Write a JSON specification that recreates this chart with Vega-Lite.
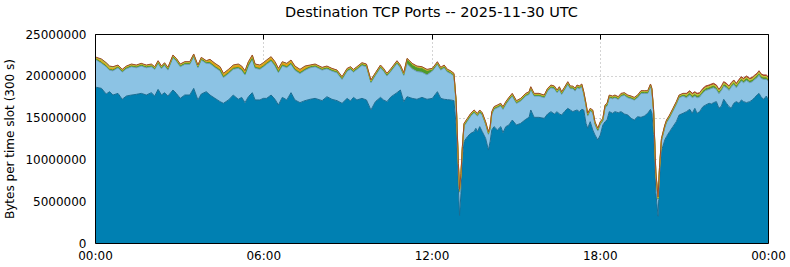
{
  "$schema": "https://vega.github.io/schema/vega-lite/v6.json",
  "width": 673,
  "height": 209,
  "autosize": "none",
  "padding": {"left": 95, "top": 34, "right": 22, "bottom": 24},
  "background": "white",
  "title": {"text": "Destination TCP Ports -- 2025-11-30 UTC", "font": "DejaVu Sans", "fontSize": 14.5, "fontWeight": "normal", "color": "black", "frame": "group", "anchor": "middle", "offset": 7.5},
  "config": {
    "view": {"stroke": null},
    "axis": {"labelFont": "DejaVu Sans", "labelFontSize": 12, "labelColor": "black", "titleFont": "DejaVu Sans", "titleFontSize": 12, "titleFontWeight": "normal", "titleColor": "black", "domainColor": "black", "domainWidth": 1, "tickColor": "black", "gridColor": "#a8a8a8", "gridDash": [1, 3], "gridWidth": 1}
  },
  "data": {"values": [
    {"h":0.00,"a":18600000,"b":3170000,"c":120000,"d":120000,"e":30000,"f":60000},
    {"h":0.05,"a":18620000,"b":3260000,"c":120000,"d":120000,"e":30000,"f":60000},
    {"h":0.23,"a":18500000,"b":3010000,"c":120000,"d":120000,"e":200000,"f":60000},
    {"h":0.40,"a":17820000,"b":3250000,"c":120000,"d":120000,"e":200000,"f":60000},
    {"h":0.52,"a":18100000,"b":2570000,"c":120000,"d":120000,"e":200000,"f":60000},
    {"h":0.64,"a":17700000,"b":2890000,"c":120000,"d":120000,"e":200000,"f":60000},
    {"h":0.82,"a":17900000,"b":3060000,"c":120000,"d":120000,"e":30000,"f":60000},
    {"h":0.97,"a":17190000,"b":3250000,"c":120000,"d":120000,"e":30000,"f":60000},
    {"h":1.12,"a":17580000,"b":3260000,"c":120000,"d":120000,"e":30000,"f":60000},
    {"h":1.30,"a":17700000,"b":3380000,"c":120000,"d":120000,"e":30000,"f":60000},
    {"h":1.47,"a":17780000,"b":3180000,"c":120000,"d":120000,"e":30000,"f":60000},
    {"h":1.65,"a":17900000,"b":3260000,"c":120000,"d":120000,"e":30000,"f":60000},
    {"h":1.83,"a":17700000,"b":3260000,"c":120000,"d":120000,"e":30000,"f":60000},
    {"h":2.01,"a":17980000,"b":3100000,"c":120000,"d":120000,"e":30000,"f":60000},
    {"h":2.13,"a":17580000,"b":3180000,"c":120000,"d":120000,"e":30000,"f":60000},
    {"h":2.25,"a":18380000,"b":3100000,"c":120000,"d":120000,"e":30000,"f":60000},
    {"h":2.37,"a":17700000,"b":3140000,"c":120000,"d":120000,"e":30000,"f":60000},
    {"h":2.48,"a":17980000,"b":3260000,"c":120000,"d":120000,"e":30000,"f":60000},
    {"h":2.60,"a":17580000,"b":3100000,"c":120000,"d":120000,"e":30000,"f":60000},
    {"h":2.78,"a":18300000,"b":3860000,"c":120000,"d":120000,"e":30000,"f":60000},
    {"h":2.90,"a":17900000,"b":3860000,"c":120000,"d":120000,"e":30000,"f":60000},
    {"h":3.04,"a":17300000,"b":3780000,"c":120000,"d":120000,"e":30000,"f":60000},
    {"h":3.20,"a":17700000,"b":3660000,"c":120000,"d":120000,"e":30000,"f":60000},
    {"h":3.38,"a":17700000,"b":3660000,"c":120000,"d":120000,"e":30000,"f":60000},
    {"h":3.52,"a":18500000,"b":3780000,"c":120000,"d":120000,"e":30000,"f":60000},
    {"h":3.67,"a":17110000,"b":3850000,"c":120000,"d":120000,"e":30000,"f":60000},
    {"h":3.79,"a":17820000,"b":4060000,"c":120000,"d":120000,"e":30000,"f":60000},
    {"h":3.97,"a":18100000,"b":3380000,"c":120000,"d":120000,"e":30000,"f":60000},
    {"h":4.10,"a":17700000,"b":3760000,"c":120000,"d":300000,"e":30000,"f":60000},
    {"h":4.28,"a":17300000,"b":3680000,"c":120000,"d":300000,"e":30000,"f":60000},
    {"h":4.46,"a":16910000,"b":3670000,"c":120000,"d":300000,"e":30000,"f":60000},
    {"h":4.58,"a":16710000,"b":3080000,"c":120000,"d":300000,"e":30000,"f":60000},
    {"h":4.76,"a":17110000,"b":3150000,"c":120000,"d":300000,"e":30000,"f":60000},
    {"h":4.93,"a":17700000,"b":3080000,"c":120000,"d":300000,"e":30000,"f":60000},
    {"h":5.11,"a":17190000,"b":3710000,"c":120000,"d":300000,"e":30000,"f":60000},
    {"h":5.23,"a":17420000,"b":3240000,"c":120000,"d":300000,"e":30000,"f":60000},
    {"h":5.35,"a":16790000,"b":3310000,"c":120000,"d":300000,"e":30000,"f":60000},
    {"h":5.47,"a":17500000,"b":3680000,"c":120000,"d":300000,"e":30000,"f":60000},
    {"h":5.61,"a":17980000,"b":4000000,"c":120000,"d":300000,"e":30000,"f":60000},
    {"h":5.71,"a":17110000,"b":3790000,"c":120000,"d":300000,"e":30000,"f":60000},
    {"h":5.88,"a":17110000,"b":3670000,"c":120000,"d":300000,"e":30000,"f":60000},
    {"h":6.00,"a":17300000,"b":3760000,"c":120000,"d":300000,"e":30000,"f":60000},
    {"h":6.12,"a":17300000,"b":4080000,"c":120000,"d":300000,"e":30000,"f":60000},
    {"h":6.28,"a":17700000,"b":4080000,"c":120000,"d":300000,"e":30000,"f":60000},
    {"h":6.42,"a":17190000,"b":3990000,"c":120000,"d":300000,"e":30000,"f":60000},
    {"h":6.54,"a":16510000,"b":3870000,"c":120000,"d":300000,"e":30000,"f":60000},
    {"h":6.68,"a":17420000,"b":3760000,"c":120000,"d":300000,"e":30000,"f":60000},
    {"h":6.84,"a":17110000,"b":3870000,"c":120000,"d":300000,"e":30000,"f":60000},
    {"h":6.99,"a":17980000,"b":3400000,"c":120000,"d":300000,"e":30000,"f":60000},
    {"h":7.13,"a":17110000,"b":3550000,"c":120000,"d":300000,"e":30000,"f":60000},
    {"h":7.31,"a":16790000,"b":3470000,"c":120000,"d":300000,"e":30000,"f":60000},
    {"h":7.49,"a":17030000,"b":3630000,"c":120000,"d":300000,"e":30000,"f":60000},
    {"h":7.67,"a":17190000,"b":3770000,"c":120000,"d":120000,"e":30000,"f":60000},
    {"h":7.85,"a":17300000,"b":3780000,"c":120000,"d":120000,"e":30000,"f":60000},
    {"h":8.10,"a":17030000,"b":3650000,"c":120000,"d":120000,"e":30000,"f":60000},
    {"h":8.27,"a":17500000,"b":3340000,"c":120000,"d":120000,"e":30000,"f":60000},
    {"h":8.45,"a":17190000,"b":3370000,"c":120000,"d":120000,"e":30000,"f":60000},
    {"h":8.63,"a":17030000,"b":3330000,"c":120000,"d":120000,"e":30000,"f":60000},
    {"h":8.81,"a":16710000,"b":2860000,"c":120000,"d":120000,"e":30000,"f":60000},
    {"h":8.99,"a":17300000,"b":3260000,"c":120000,"d":120000,"e":30000,"f":60000},
    {"h":9.11,"a":16990000,"b":3770000,"c":120000,"d":120000,"e":30000,"f":60000},
    {"h":9.22,"a":17420000,"b":3020000,"c":120000,"d":120000,"e":30000,"f":60000},
    {"h":9.34,"a":17110000,"b":3650000,"c":120000,"d":120000,"e":30000,"f":60000},
    {"h":9.52,"a":17300000,"b":3940000,"c":120000,"d":120000,"e":30000,"f":60000},
    {"h":9.68,"a":17110000,"b":3970000,"c":120000,"d":120000,"e":30000,"f":60000},
    {"h":9.84,"a":15910000,"b":3260000,"c":120000,"d":120000,"e":30000,"f":60000},
    {"h":10.00,"a":16910000,"b":3130000,"c":120000,"d":120000,"e":30000,"f":60000},
    {"h":10.18,"a":17420000,"b":3540000,"c":120000,"d":120000,"e":30000,"f":60000},
    {"h":10.29,"a":17110000,"b":3450000,"c":120000,"d":120000,"e":30000,"f":60000},
    {"h":10.41,"a":16910000,"b":3060000,"c":120000,"d":120000,"e":30000,"f":60000},
    {"h":10.56,"a":17500000,"b":3060000,"c":120000,"d":120000,"e":30000,"f":60000},
    {"h":10.77,"a":17980000,"b":3500000,"c":120000,"d":120000,"e":30000,"f":60000},
    {"h":10.89,"a":18300000,"b":2660000,"c":120000,"d":120000,"e":30000,"f":60000},
    {"h":11.01,"a":16910000,"b":3130000,"c":120000,"d":120000,"e":30000,"f":60000},
    {"h":11.13,"a":17500000,"b":3930000,"c":450000,"d":120000,"e":30000,"f":60000},
    {"h":11.31,"a":17300000,"b":3530000,"c":450000,"d":120000,"e":30000,"f":60000},
    {"h":11.48,"a":17190000,"b":3320000,"c":450000,"d":120000,"e":30000,"f":60000},
    {"h":11.66,"a":17420000,"b":3010000,"c":450000,"d":120000,"e":30000,"f":60000},
    {"h":11.84,"a":17190000,"b":2920000,"c":450000,"d":120000,"e":30000,"f":60000},
    {"h":12.03,"a":17300000,"b":3260000,"c":120000,"d":120000,"e":30000,"f":60000},
    {"h":12.21,"a":18100000,"b":3260000,"c":120000,"d":120000,"e":30000,"f":60000},
    {"h":12.33,"a":17300000,"b":3380000,"c":120000,"d":120000,"e":30000,"f":60000},
    {"h":12.45,"a":17190000,"b":3770000,"c":120000,"d":120000,"e":30000,"f":60000},
    {"h":12.57,"a":17150000,"b":3290000,"c":120000,"d":120000,"e":30000,"f":60000},
    {"h":12.68,"a":17110000,"b":3170000,"c":120000,"d":120000,"e":30000,"f":60000},
    {"h":12.80,"a":17030000,"b":2940000,"c":120000,"d":120000,"e":30000,"f":60000},
    {"h":12.88,"a":14000000,"b":2670000,"c":120000,"d":120000,"e":30000,"f":60000},
    {"h":12.96,"a":6500000,"b":2670000,"c":120000,"d":120000,"e":30000,"f":60000},
    {"h":13.00,"a":3300000,"b":2770000,"c":120000,"d":120000,"e":30000,"f":60000},
    {"h":13.05,"a":5900000,"b":2070000,"c":120000,"d":120000,"e":30000,"f":60000},
    {"h":13.10,"a":9930000,"b":1260000,"c":120000,"d":120000,"e":30000,"f":60000},
    {"h":13.16,"a":12120000,"b":1860000,"c":120000,"d":120000,"e":30000,"f":60000},
    {"h":13.28,"a":12720000,"b":1860000,"c":120000,"d":120000,"e":30000,"f":60000},
    {"h":13.40,"a":13120000,"b":2060000,"c":120000,"d":120000,"e":30000,"f":60000},
    {"h":13.52,"a":13320000,"b":2260000,"c":120000,"d":120000,"e":30000,"f":60000},
    {"h":13.58,"a":13720000,"b":1660000,"c":120000,"d":120000,"e":30000,"f":60000},
    {"h":13.64,"a":13320000,"b":1860000,"c":120000,"d":120000,"e":30000,"f":60000},
    {"h":13.72,"a":13920000,"b":1660000,"c":120000,"d":120000,"e":30000,"f":60000},
    {"h":13.81,"a":13320000,"b":1940000,"c":120000,"d":120000,"e":30000,"f":60000},
    {"h":13.93,"a":12520000,"b":1660000,"c":120000,"d":120000,"e":30000,"f":60000},
    {"h":14.03,"a":11120000,"b":1870000,"c":120000,"d":120000,"e":30000,"f":60000},
    {"h":14.09,"a":12120000,"b":1470000,"c":120000,"d":120000,"e":30000,"f":60000},
    {"h":14.15,"a":13520000,"b":1860000,"c":120000,"d":120000,"e":30000,"f":60000},
    {"h":14.23,"a":13920000,"b":2060000,"c":120000,"d":120000,"e":30000,"f":60000},
    {"h":14.35,"a":13520000,"b":2660000,"c":120000,"d":120000,"e":30000,"f":60000},
    {"h":14.47,"a":13920000,"b":2460000,"c":120000,"d":120000,"e":30000,"f":60000},
    {"h":14.55,"a":13200000,"b":2780000,"c":120000,"d":120000,"e":30000,"f":60000},
    {"h":14.65,"a":13920000,"b":2660000,"c":120000,"d":120000,"e":30000,"f":60000},
    {"h":14.76,"a":14110000,"b":2980000,"c":120000,"d":120000,"e":30000,"f":60000},
    {"h":14.88,"a":14710000,"b":2860000,"c":120000,"d":120000,"e":30000,"f":60000},
    {"h":15.03,"a":14110000,"b":2590000,"c":120000,"d":120000,"e":30000,"f":60000},
    {"h":15.18,"a":14310000,"b":2660000,"c":120000,"d":120000,"e":30000,"f":60000},
    {"h":15.36,"a":14790000,"b":2780000,"c":120000,"d":120000,"e":30000,"f":60000},
    {"h":15.48,"a":15030000,"b":2740000,"c":120000,"d":120000,"e":30000,"f":60000},
    {"h":15.54,"a":15910000,"b":2460000,"c":120000,"d":120000,"e":30000,"f":60000},
    {"h":15.66,"a":15030000,"b":2540000,"c":120000,"d":120000,"e":30000,"f":60000},
    {"h":15.83,"a":15030000,"b":2540000,"c":120000,"d":120000,"e":30000,"f":60000},
    {"h":16.02,"a":14910000,"b":2460000,"c":120000,"d":120000,"e":30000,"f":60000},
    {"h":16.14,"a":15430000,"b":2740000,"c":120000,"d":120000,"e":30000,"f":60000},
    {"h":16.26,"a":15710000,"b":2860000,"c":120000,"d":120000,"e":30000,"f":60000},
    {"h":16.38,"a":15430000,"b":3020000,"c":120000,"d":120000,"e":30000,"f":60000},
    {"h":16.48,"a":15710000,"b":2260000,"c":120000,"d":120000,"e":30000,"f":60000},
    {"h":16.56,"a":15430000,"b":2940000,"c":120000,"d":120000,"e":30000,"f":60000},
    {"h":16.64,"a":15310000,"b":2460000,"c":120000,"d":120000,"e":30000,"f":60000},
    {"h":16.74,"a":15710000,"b":2580000,"c":120000,"d":120000,"e":30000,"f":60000},
    {"h":16.86,"a":16110000,"b":2860000,"c":120000,"d":120000,"e":30000,"f":60000},
    {"h":16.95,"a":15910000,"b":2540000,"c":120000,"d":120000,"e":30000,"f":60000},
    {"h":17.04,"a":15710000,"b":2740000,"c":120000,"d":120000,"e":30000,"f":60000},
    {"h":17.12,"a":15830000,"b":2340000,"c":120000,"d":120000,"e":30000,"f":60000},
    {"h":17.19,"a":15910000,"b":2660000,"c":120000,"d":120000,"e":30000,"f":60000},
    {"h":17.27,"a":15710000,"b":2740000,"c":120000,"d":120000,"e":30000,"f":60000},
    {"h":17.36,"a":15990000,"b":2700000,"c":120000,"d":120000,"e":30000,"f":60000},
    {"h":17.43,"a":15910000,"b":1860000,"c":120000,"d":120000,"e":30000,"f":60000},
    {"h":17.51,"a":14310000,"b":2070000,"c":120000,"d":120000,"e":30000,"f":60000},
    {"h":17.57,"a":13720000,"b":1460000,"c":120000,"d":120000,"e":30000,"f":60000},
    {"h":17.66,"a":14510000,"b":1270000,"c":120000,"d":120000,"e":30000,"f":60000},
    {"h":17.75,"a":13520000,"b":2060000,"c":120000,"d":120000,"e":30000,"f":60000},
    {"h":17.83,"a":12920000,"b":1260000,"c":120000,"d":120000,"e":30000,"f":60000},
    {"h":17.93,"a":12320000,"b":1070000,"c":120000,"d":120000,"e":30000,"f":60000},
    {"h":18.02,"a":12920000,"b":1260000,"c":120000,"d":120000,"e":30000,"f":60000},
    {"h":18.11,"a":14110000,"b":470000,"c":120000,"d":120000,"e":30000,"f":60000},
    {"h":18.19,"a":14510000,"b":1670000,"c":120000,"d":120000,"e":30000,"f":60000},
    {"h":18.26,"a":14710000,"b":1670000,"c":120000,"d":120000,"e":30000,"f":60000},
    {"h":18.34,"a":15710000,"b":1660000,"c":120000,"d":120000,"e":30000,"f":60000},
    {"h":18.46,"a":15510000,"b":1740000,"c":120000,"d":120000,"e":30000,"f":60000},
    {"h":18.54,"a":15710000,"b":1660000,"c":120000,"d":120000,"e":30000,"f":60000},
    {"h":18.66,"a":15590000,"b":1580000,"c":120000,"d":120000,"e":30000,"f":60000},
    {"h":18.76,"a":15710000,"b":1860000,"c":120000,"d":120000,"e":30000,"f":60000},
    {"h":18.88,"a":15430000,"b":2220000,"c":120000,"d":120000,"e":30000,"f":60000},
    {"h":19.00,"a":15310000,"b":2060000,"c":120000,"d":120000,"e":30000,"f":60000},
    {"h":19.12,"a":14910000,"b":2340000,"c":120000,"d":120000,"e":30000,"f":60000},
    {"h":19.23,"a":14710000,"b":2380000,"c":120000,"d":120000,"e":30000,"f":60000},
    {"h":19.35,"a":15110000,"b":2260000,"c":120000,"d":120000,"e":30000,"f":60000},
    {"h":19.47,"a":15030000,"b":2860000,"c":120000,"d":120000,"e":30000,"f":60000},
    {"h":19.59,"a":15190000,"b":2700000,"c":120000,"d":120000,"e":30000,"f":60000},
    {"h":19.71,"a":15510000,"b":2380000,"c":120000,"d":120000,"e":30000,"f":60000},
    {"h":19.81,"a":15990000,"b":2700000,"c":120000,"d":120000,"e":30000,"f":60000},
    {"h":19.86,"a":15510000,"b":2660000,"c":120000,"d":120000,"e":30000,"f":60000},
    {"h":19.92,"a":13000000,"b":2670000,"c":120000,"d":120000,"e":30000,"f":60000},
    {"h":20.00,"a":6000000,"b":2170000,"c":120000,"d":120000,"e":30000,"f":60000},
    {"h":20.08,"a":3200000,"b":1970000,"c":120000,"d":120000,"e":30000,"f":60000},
    {"h":20.13,"a":7500000,"b":1170000,"c":120000,"d":120000,"e":30000,"f":60000},
    {"h":20.20,"a":11000000,"b":1170000,"c":120000,"d":120000,"e":30000,"f":60000},
    {"h":20.32,"a":12320000,"b":1460000,"c":120000,"d":120000,"e":30000,"f":60000},
    {"h":20.38,"a":12720000,"b":1660000,"c":120000,"d":120000,"e":30000,"f":60000},
    {"h":20.49,"a":13320000,"b":1660000,"c":120000,"d":120000,"e":30000,"f":60000},
    {"h":20.61,"a":13920000,"b":1860000,"c":120000,"d":120000,"e":30000,"f":60000},
    {"h":20.73,"a":14510000,"b":2070000,"c":120000,"d":120000,"e":30000,"f":60000},
    {"h":20.83,"a":15310000,"b":2060000,"c":120000,"d":120000,"e":30000,"f":60000},
    {"h":20.97,"a":15510000,"b":2060000,"c":120000,"d":120000,"e":30000,"f":60000},
    {"h":21.09,"a":15710000,"b":1660000,"c":200000,"d":120000,"e":30000,"f":180000},
    {"h":21.21,"a":15990000,"b":1700000,"c":200000,"d":120000,"e":30000,"f":180000},
    {"h":21.30,"a":15510000,"b":1860000,"c":200000,"d":120000,"e":30000,"f":180000},
    {"h":21.39,"a":16110000,"b":1460000,"c":200000,"d":120000,"e":30000,"f":180000},
    {"h":21.47,"a":15510000,"b":1860000,"c":200000,"d":120000,"e":30000,"f":180000},
    {"h":21.56,"a":15710000,"b":1740000,"c":200000,"d":120000,"e":30000,"f":180000},
    {"h":21.68,"a":16310000,"b":1660000,"c":200000,"d":120000,"e":30000,"f":180000},
    {"h":21.78,"a":16510000,"b":1740000,"c":200000,"d":120000,"e":30000,"f":180000},
    {"h":21.90,"a":16710000,"b":1660000,"c":200000,"d":120000,"e":30000,"f":180000},
    {"h":21.98,"a":16630000,"b":1860000,"c":200000,"d":120000,"e":30000,"f":180000},
    {"h":22.06,"a":16790000,"b":1780000,"c":200000,"d":120000,"e":30000,"f":180000},
    {"h":22.16,"a":16910000,"b":1460000,"c":200000,"d":120000,"e":30000,"f":180000},
    {"h":22.25,"a":16110000,"b":1740000,"c":200000,"d":120000,"e":30000,"f":180000},
    {"h":22.34,"a":16390000,"b":1860000,"c":200000,"d":120000,"e":30000,"f":180000},
    {"h":22.42,"a":17190000,"b":1580000,"c":200000,"d":120000,"e":30000,"f":180000},
    {"h":22.52,"a":16710000,"b":1860000,"c":200000,"d":120000,"e":30000,"f":180000},
    {"h":22.61,"a":16310000,"b":1940000,"c":200000,"d":120000,"e":30000,"f":180000},
    {"h":22.69,"a":16110000,"b":2540000,"c":200000,"d":120000,"e":30000,"f":180000},
    {"h":22.78,"a":16710000,"b":2260000,"c":200000,"d":120000,"e":30000,"f":180000},
    {"h":22.87,"a":16910000,"b":1660000,"c":200000,"d":120000,"e":30000,"f":180000},
    {"h":22.97,"a":16710000,"b":2340000,"c":200000,"d":120000,"e":30000,"f":180000},
    {"h":23.05,"a":17110000,"b":2260000,"c":200000,"d":120000,"e":30000,"f":180000},
    {"h":23.13,"a":16910000,"b":2260000,"c":200000,"d":120000,"e":30000,"f":180000},
    {"h":23.23,"a":16790000,"b":2660000,"c":200000,"d":120000,"e":30000,"f":180000},
    {"h":23.35,"a":16910000,"b":2260000,"c":200000,"d":120000,"e":30000,"f":180000},
    {"h":23.44,"a":17110000,"b":2180000,"c":200000,"d":120000,"e":30000,"f":180000},
    {"h":23.53,"a":17420000,"b":2150000,"c":200000,"d":120000,"e":30000,"f":180000},
    {"h":23.61,"a":17700000,"b":2070000,"c":200000,"d":120000,"e":30000,"f":180000},
    {"h":23.68,"a":17900000,"b":2180000,"c":200000,"d":120000,"e":30000,"f":180000},
    {"h":23.76,"a":17420000,"b":2260000,"c":200000,"d":120000,"e":30000,"f":180000},
    {"h":23.85,"a":17190000,"b":2380000,"c":200000,"d":120000,"e":30000,"f":180000},
    {"h":23.94,"a":17580000,"b":1990000,"c":200000,"d":120000,"e":30000,"f":180000},
    {"h":24.00,"a":17200000,"b":2170000,"c":200000,"d":120000,"e":30000,"f":180000}
  ]},
  "transform": [
    {"fold": ["a", "b", "c", "d", "e", "f"], "as": ["key", "value"]},
    {"stack": "value", "groupby": ["h"], "sort": [{"field": "key", "order": "ascending"}], "as": ["v0", "v1"]}
  ],
  "layer": [
    {
      "mark": {"type": "area", "interpolate": "linear"},
      "encoding": {
        "x": {"field": "h", "type": "quantitative", "scale": {"domain": [0, 24], "nice": false, "zero": false},
              "axis": {"orient": "bottom", "values": [0, 6, 12, 18, 24], "labelExpr": "(datum.value % 24 < 10 ? '0' : '') + (datum.value % 24) + ':00'", "labelOverlap": false, "labelBound": false, "labelFlush": false, "ticks": false, "grid": false, "domain": true, "labelPadding": 7, "title": null, "zindex": 1}},
        "y": {"field": "v1", "type": "quantitative", "scale": {"domain": [0, 25000000], "nice": false},
              "axis": {"orient": "left", "values": [0, 5000000, 10000000, 15000000, 20000000, 25000000], "format": "d", "ticks": false, "grid": false, "domain": true, "labelPadding": 9, "title": "Bytes per time slot (300 s)", "titlePadding": 8, "zindex": 1}},
        "y2": {"field": "v0"},
        "fill": {"field": "key", "type": "nominal", "scale": {"domain": ["a", "b", "c", "d", "e", "f"], "range": ["#0080b2", "#8cc3e4", "#4f9a2a", "#ee9a10", "#a8d44c", "#c0392b"]}, "legend": null}
      }
    },
    {
      "mark": {"type": "line", "strokeWidth": 1, "interpolate": "linear"},
      "encoding": {
        "x": {"field": "h", "type": "quantitative",
              "axis": {"orient": "top", "values": [0, 6, 12, 18, 24], "labels": false, "ticks": true, "tickSize": -5, "grid": true, "domain": true, "title": null, "zindex": 0}},
        "y": {"field": "v1", "type": "quantitative",
              "axis": {"orient": "right", "values": [0, 5000000, 10000000, 15000000, 20000000, 25000000], "labels": false, "ticks": false, "grid": true, "domain": true, "title": null, "zindex": 0}},
        "stroke": {"field": "key", "type": "nominal", "scale": {"domain": ["a", "b", "c", "d", "e", "f"], "range": ["#1a6c92", "#6d9dbd", "#4f9a2a", "#ee9a10", "#a8d44c", "#a04a28"]}, "legend": null}
      }
    }
  ],
  "resolve": {"axis": {"x": "independent", "y": "independent"}}
}
